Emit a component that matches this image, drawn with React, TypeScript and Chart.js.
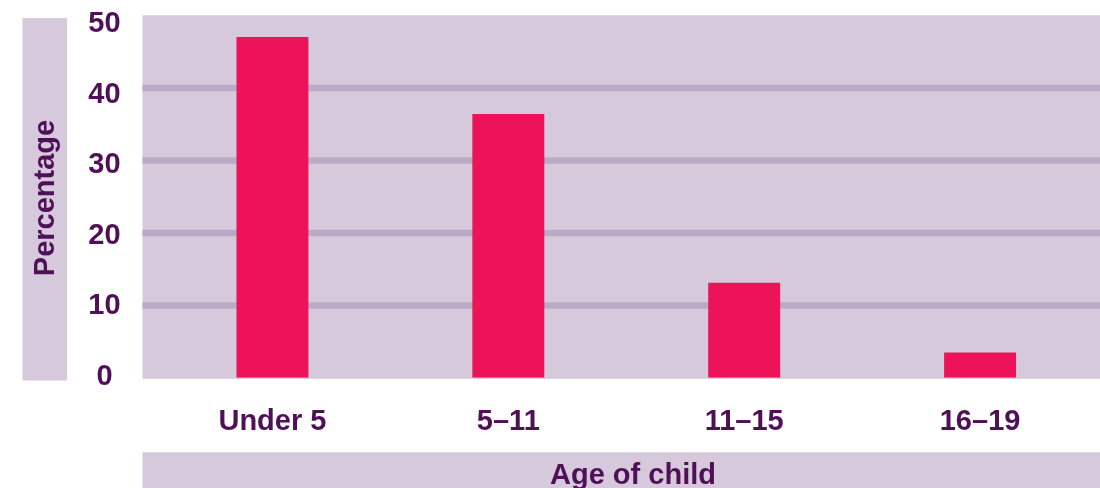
import React, { useEffect, useRef } from "react";
import { Chart, registerables } from "chart.js";

Chart.register(...registerables);

const categories = ["Under 5", "5–11", "11–15", "16–19"];
const percentages = [47, 36.4, 13.1, 3.5];
const yMin = 0;
const yMax = 50;
const yStep = 10;
const yTitle = "Percentage";
const xTitle = "Age of child";

const BG = "#d6c9dc";
const GRID = "#baaac5";
const TEXT = "#501058";
const BAR = "#ed1358";
const FONT = "'Liberation Sans', Arial, Helvetica, sans-serif";

const decorPlugin = {
  id: "decor",
  beforeDraw(chart: any) {
    const { ctx, chartArea, width } = chart;
    const y = chart.scales.y;
    ctx.save();
    // plot background
    ctx.fillStyle = BG;
    ctx.fillRect(142.5, chartArea.top, width - 142.5, chartArea.bottom - chartArea.top + 1);
    // gridlines
    ctx.fillStyle = GRID;
    y.ticks.forEach((t: any) => {
      if (t.value === yMin || t.value === yMax) return;
      const py = y.getPixelForValue(t.value);
      ctx.fillRect(142.5, py - 3, width - 142.5, 6.4);
    });
    // y tick labels (from the scale's own ticks)
    ctx.fillStyle = TEXT;
    ctx.font = `bold 29px ${FONT}`;
    ctx.textAlign = "center";
    ctx.textBaseline = "middle";
    y.ticks.forEach((t: any) => {
      const py = y.getPixelForValue(t.value);
      const shift = -1.3 + (t.value - yMin) * 0.2;
      ctx.fillText(String(t.label), 104.5, py + shift);
    });
    // y title box
    ctx.fillStyle = BG;
    ctx.fillRect(22.5, 18, 44.5, 362.5);
    ctx.fillStyle = TEXT;
    ctx.translate(46, 198);
    ctx.rotate(-Math.PI / 2);
    ctx.fillText(yTitle, 0, 0);
    ctx.restore();
    // x title box
    ctx.save();
    ctx.fillStyle = BG;
    ctx.fillRect(142.5, 452.3, width - 142.5, 40);
    ctx.fillStyle = TEXT;
    ctx.font = `bold 29px ${FONT}`;
    ctx.textAlign = "center";
    ctx.textBaseline = "alphabetic";
    ctx.fillText(xTitle, 633, 484);
    ctx.restore();
  },
};

export default function App() {
  const ref = useRef<HTMLCanvasElement | null>(null);
  useEffect(() => {
    if (!ref.current) return;
    const chart = new Chart(ref.current, {
      type: "bar",
      data: {
        labels: categories,
        datasets: [
          {
            data: percentages,
            backgroundColor: BAR,
            borderWidth: 0,
            categoryPercentage: 1,
            barPercentage: 0.305,
          },
        ],
      },
      options: {
        animation: false,
        responsive: false,
        maintainAspectRatio: false,
        layout: { padding: { top: 15.3, right: 2, bottom: 0, left: 0 } },
        plugins: { legend: { display: false }, tooltip: { enabled: false } },
        scales: {
          x: {
            offset: true,
            grid: { display: false, drawTicks: false },
            border: { display: false },
            ticks: {
              color: TEXT,
              font: { family: FONT, size: 29, weight: "bold" },
              padding: 26.6,
              maxRotation: 0,
              autoSkip: false,
            },
            afterFit: (s: any) => {
              s.height = 110.2;
              s.paddingLeft = 0;
              s.paddingRight = 0;
            },
          },
          y: {
            min: yMin,
            max: yMax,
            grid: { display: false, drawTicks: false },
            border: { display: false },
            ticks: {
              stepSize: yStep,
              display: false,
            },
            afterFit: (s: any) => {
              s.width = 154.5;
              s.paddingTop = 0;
              s.paddingBottom = 0;
            },
          },
        },
      },
      plugins: [decorPlugin],
    });
    return () => chart.destroy();
  }, []);
  return (
    <div style={{ position: "absolute", left: 0, top: 0, width: 1100, height: 488, background: "#fff" }}>
      <canvas ref={ref} width={1100} height={488} style={{ display: "block" }} />
    </div>
  );
}
